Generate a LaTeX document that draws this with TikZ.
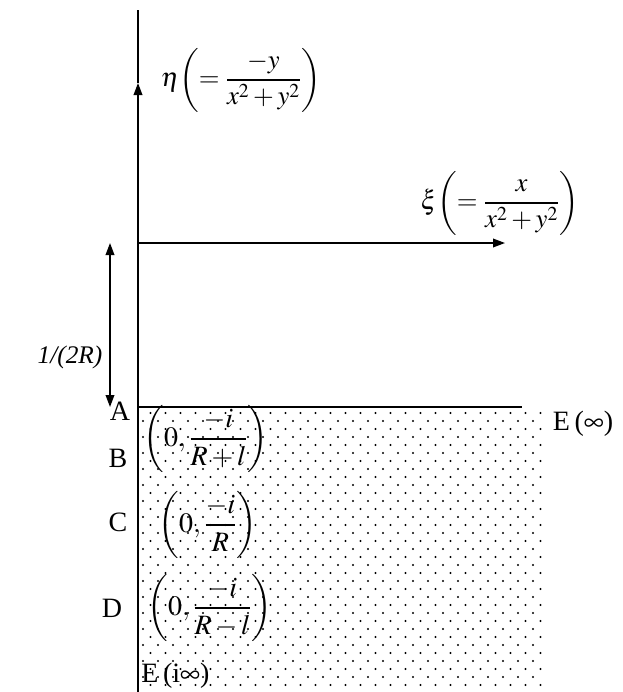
\documentclass[tikz,border=0pt]{standalone}
\usepackage{mathptmx}
\usepackage{fontspec}
\setmainfont{Liberation Serif}
\usetikzlibrary{arrows.meta}

\begin{document}
\begin{tikzpicture}[
        x=0.75pt, y=-0.75pt,
        axis/.style={line width=1.1pt},
        arrow/.style={-{Triangle[length=9pt, width=6.5pt]}, line width=1.1pt},
        span/.style={{Triangle[length=9pt, width=6.5pt]}-{Triangle[length=9pt, width=6.5pt]}, line width=1.1pt},
        tag/.style={font=\fontsize{21}{25}\selectfont, inner sep=0pt},
        point/.style={font=\fontsize{21}{25}\selectfont, inner sep=0pt},
        axislabel/.style={font=\fontsize{20}{24}\selectfont, inner sep=0pt}
    ]
    \useasboundingbox (0,0) rectangle (623,692);

    \foreach \yy [count=\r] in {413,421,...,692} {
        \pgfmathsetmacro{\off}{mod(\r,2)*7.5}
        \foreach \xx in {143,158,...,545}
            \fill (\xx+\off,\yy) circle (0.85pt);
    }

    \coordinate (top) at (138,10);
    \coordinate (bottom) at (138,692);
    \coordinate (etatip) at (138,83);
    \coordinate (origin) at (138,243);
    \coordinate (xitip) at (505,243);
    \coordinate (spantop) at (110,243);
    \coordinate (spanbot) at (110,407);
    \coordinate (lineA) at (138,407);
    \coordinate (lineE) at (522,407);

    \node[axislabel] (eta) at (241,80) {$\displaystyle \eta\!\left(=\frac{-y}{x^{2}+y^{2}}\right)$};
    \node[axislabel] (xi) at (500,203) {$\displaystyle \xi\!\left(=\frac{x}{x^{2}+y^{2}}\right)$};
    \node[tag, font=\fontsize{19}{22}\selectfont\itshape] (dist) at (70,357) {1/(2R)};
    \node[tag] (A) at (120,411) {A};
    \node[tag] (B) at (118,458) {B};
    \node[tag] (C) at (118,522) {C};
    \node[tag] (D) at (112,608) {D};
    \node[tag] (Einf) at (583,424) {E\,($\infty$)};
    \node[tag, anchor=base west] (Eiinf) at (141,682) {E\,(i$\infty$)};
    \node[point] (Bpt) at (206,439) {$\displaystyle \left(0,\frac{-i}{R+l}\right)$};
    \node[point] (Cpt) at (208,525) {$\displaystyle \left(0,\frac{-i}{R}\right)$};
    \node[point] (Dpt) at (210,608) {$\displaystyle \left(0,\frac{-i}{R-l}\right)$};

    \draw[arrow] (bottom) -- (etatip);
    \draw[axis] (etatip) -- (top);
    \draw[arrow] (origin) -- (xitip);
    \draw[span] (spantop) -- (spanbot);
    \draw[axis] (lineA) -- (lineE);
\end{tikzpicture}
\end{document}
